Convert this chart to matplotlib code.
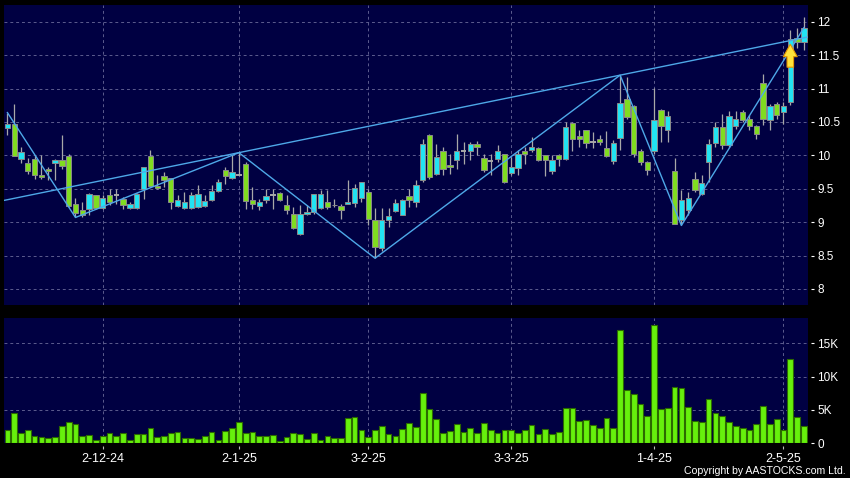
import matplotlib
matplotlib.use('Agg')
import matplotlib.pyplot as plt
from matplotlib.ticker import FuncFormatter
from matplotlib.transforms import offset_copy
import numpy as np

# daily candles (index 0 .. 117)
opens = [10.41, 10.475, 9.95, 9.89, 9.95, 9.71, 9.80, 9.885, 9.935, 9.99,
         9.265, 9.185, 9.20, 9.40, 9.21, 9.40, 9.40, 9.35, 9.21, 9.21,
         9.49, 9.99, 9.54, 9.69, 9.66, 9.24, 9.21, 9.21, 9.225, 9.24,
         9.335, 9.46, 9.775, 9.66, 9.71, 9.875, 9.335, 9.24, 9.325, 9.40,
         9.435, 9.26, 9.125, 8.825, 9.12, 9.15, 9.21, 9.30, 9.26, 9.24,
         9.275, 9.29, 9.36, 9.45, 9.025, 8.61, 9.025, 9.16, 9.11, 9.385,
         9.30, 9.625, 10.30, 9.725, 10.065, 9.86, 9.925, 10.065, 10.06, 10.175,
         9.96, 9.91, 9.95, 10.02, 9.74, 9.81, 10.065, 10.075, 10.11, 10.00,
         9.765, 10.00, 9.95, 10.485, 10.29, 10.375, 10.20, 10.245, 10.11, 9.915,
         10.265, 10.85, 10.735, 10.065, 9.90, 10.065, 10.675, 10.375, 9.765, 9.025,
         9.175, 9.65, 9.425, 9.90, 10.185, 10.425, 10.15, 10.435, 10.645, 10.545,
         10.435, 11.085, 10.525, 10.765, 10.645, 10.80, 11.76, 11.70]
highs = [10.64, 10.775, 10.125, 9.96, 10.00, 10.00, 9.825, 9.94, 10.31, 10.025,
         9.36, 9.30, 9.44, 9.40, 9.40, 9.49, 9.50, 9.375, 9.30, 9.44,
         9.825, 10.075, 9.71, 9.75, 9.66, 9.40, 9.45, 9.45, 9.56, 9.40,
         9.55, 9.65, 9.825, 10.00, 10.04, 9.90, 9.525, 9.35, 9.50, 9.50,
         9.45, 9.40, 9.225, 9.26, 9.25, 9.42, 9.475, 9.475, 9.35, 9.275,
         9.625, 9.575, 9.60, 9.50, 9.21, 9.21, 9.21, 9.35, 9.35, 9.50,
         9.625, 10.25, 10.325, 10.175, 10.125, 10.025, 10.325, 10.20, 10.20, 10.21,
         10.025, 10.025, 10.15, 10.025, 9.975, 10.075, 10.125, 10.275, 10.125, 10.00,
         10.00, 10.025, 10.50, 10.50, 10.375, 10.375, 10.35, 10.30, 10.36, 10.225,
         11.20, 11.17, 10.75, 10.10, 9.92, 11.01, 10.70, 10.67, 9.96, 9.485,
         9.45, 9.75, 9.70, 10.25, 10.50, 10.625, 10.66, 10.66, 10.68, 10.60,
         10.45, 11.21, 10.775, 10.80, 10.80, 11.87, 11.90, 12.07]
lows = [10.30, 9.99, 9.89, 9.725, 9.65, 9.65, 9.625, 9.625, 9.80, 9.225,
        9.07, 9.08, 9.10, 9.20, 9.20, 9.25, 9.275, 9.19, 9.20, 9.20,
        9.35, 9.525, 9.49, 9.525, 9.20, 9.225, 9.20, 9.20, 9.21, 9.225,
        9.32, 9.45, 9.575, 9.64, 9.70, 9.20, 9.20, 9.175, 9.29, 9.20,
        9.32, 9.125, 8.90, 8.81, 9.10, 9.125, 9.20, 9.20, 9.225, 9.05,
        9.275, 9.225, 9.30, 8.95, 8.46, 8.575, 8.925, 9.15, 9.10, 9.225,
        9.225, 9.60, 9.65, 9.71, 9.71, 9.725, 9.79, 9.875, 9.925, 10.00,
        9.75, 9.71, 9.90, 9.59, 9.70, 9.70, 9.875, 10.05, 9.91, 9.69,
        9.725, 9.84, 9.925, 10.06, 10.125, 10.11, 10.11, 10.15, 9.975, 9.875,
        10.08, 10.55, 9.98, 9.86, 9.70, 10.02, 10.20, 10.20, 8.97, 8.95,
        9.10, 9.45, 9.40, 9.60, 10.125, 10.10, 10.125, 10.40, 10.50, 10.375,
        10.25, 10.45, 10.375, 10.55, 10.475, 10.75, 11.60, 11.57]
closes = [10.475, 9.99, 10.05, 9.76, 9.70, 9.67, 9.76, 9.935, 9.84, 9.24,
          9.135, 9.10, 9.415, 9.21, 9.36, 9.30, 9.40, 9.26, 9.265, 9.415,
          9.825, 9.54, 9.51, 9.625, 9.30, 9.335, 9.30, 9.41, 9.425, 9.31,
          9.46, 9.60, 9.69, 9.75, 9.71, 9.31, 9.275, 9.30, 9.39, 9.40,
          9.325, 9.175, 8.91, 9.12, 9.15, 9.42, 9.42, 9.225, 9.25, 9.175,
          9.30, 9.51, 9.60, 9.04, 8.625, 9.025, 9.09, 9.29, 9.335, 9.325,
          9.55, 10.175, 9.675, 9.975, 9.80, 9.82, 10.065, 10.065, 10.175, 10.12,
          9.775, 9.91, 10.065, 9.60, 9.825, 10.02, 10.015, 10.125, 9.925, 9.925,
          9.935, 9.95, 10.425, 10.25, 10.24, 10.19, 10.20, 10.20, 9.99, 10.19,
          10.785, 10.575, 10.015, 9.90, 9.775, 10.525, 10.435, 10.585, 8.975, 9.325,
          9.365, 9.475, 9.585, 10.175, 10.425, 10.15, 10.585, 10.545, 10.535, 10.435,
          10.315, 10.55, 10.735, 10.60, 10.735, 11.735, 11.70, 11.91]
volume_k = [1.9, 4.55, 1.45, 2.0, 1.05, 0.95, 0.75, 0.95, 2.6, 3.15,
            2.85, 1.1, 1.2, 0.45, 1.0, 1.55, 1.1, 1.45, 0.45, 1.4,
            1.4, 2.25, 0.9, 1.1, 1.45, 1.65, 0.7, 0.75, 0.65, 1.1,
            1.7, 0.45, 1.8, 2.2, 3.1, 1.55, 1.7, 1.0, 1.0, 1.25,
            0.35, 0.9, 1.45, 1.35, 0.65, 1.55, 0.4, 1.05, 0.8, 0.8,
            3.75, 3.95, 1.9, 0.85, 2.0, 2.55, 1.4, 1.1, 2.05, 3.0,
            2.35, 7.5, 5.1, 3.65, 1.5, 1.75, 2.85, 1.7, 2.3, 1.5,
            2.95, 2.0, 1.55, 1.9, 2.0, 1.45, 1.95, 2.75, 1.35, 2.05,
            1.3, 1.6, 5.25, 5.35, 3.3, 3.45, 2.7, 2.25, 3.75, 2.25,
            17.1, 8.0, 7.4, 5.9, 4.1, 17.75, 5.1, 5.35, 8.4, 8.3,
            5.4, 3.35, 3.1, 6.7, 4.45, 4.0, 3.15, 2.6, 2.2, 2.0,
            2.8, 5.55, 2.85, 3.6, 1.95, 12.6, 3.9, 2.6]

date_ticks = [14, 34, 53, 74, 95, 114]
date_labels = ['2-12-24', '2-1-25', '3-2-25', '3-3-25', '1-4-25', '2-5-25']
price_ticks = [8, 8.5, 9, 9.5, 10, 10.5, 11, 11.5, 12]
vol_ticks = [0, 5000, 10000, 15000]
vol_labels = ['0', '5K', '10K', '15K']

# zigzag pivots: index and which price it uses
pivot_idx = [0, 10, 34, 54, 90, 99, 117]
pivot_kind = ['H', 'L', 'H', 'L', 'H', 'L', 'C']
trend_idx = [34, 90]   # trendline through these two highs
signal_idx = 115       # breakout arrow

BG = '#000042'
UP = '#22e3f2'
DOWN = '#80dc20'
FLAT = '#a8a8a8'
EDGE = '#8a8a8a'
LINE = '#4ea8e8'
GRID = '#5c5c8e'
VOL = '#66f00c'
VOL_EDGE = '#2c6a00'
FONT = 'Liberation Sans'

x_lo, x_hi = -0.5, 117.6

o = np.array(opens)
h = np.array(highs)
l = np.array(lows)
c = np.array(closes)
v = np.array(volume_k) * 1000
idx = np.arange(len(c))

fig = plt.figure(figsize=(8.5, 4.78), dpi=100, facecolor='black')
ax = fig.add_axes([4/850, 1-305/478, 804/850, 300/478], facecolor=BG)
axv = fig.add_axes([4/850, 1-443/478, 804/850, 125/478], facecolor=BG)

# candles
colors = np.where(c > o, UP, np.where(c < o, DOWN, FLAT))
ax.vlines(idx, l, h, color=FLAT, linewidth=0.9, zorder=2)
body = c != o
ax.bar(idx[body], np.abs(c - o)[body], bottom=np.minimum(o, c)[body], width=0.78,
       color=colors[body], edgecolor=EDGE, linewidth=0.7, zorder=3)
ax.hlines(c[~body], idx[~body] - 0.39, idx[~body] + 0.39, color=FLAT, linewidth=1.4, zorder=3)

# zigzag and trendline
price_of = {'H': h, 'L': l, 'C': c}
zz = [price_of[k][i] for i, k in zip(pivot_idx, pivot_kind)]
ax.plot(pivot_idx, zz, color=LINE, linewidth=1.0, zorder=4)
i1, i2 = trend_idx
slope = (h[i2] - h[i1]) / (i2 - i1)
tx = np.array([x_lo, x_hi])
ax.plot(tx, h[i1] + slope * (tx - i1), color=LINE, linewidth=1.0, zorder=4)

# breakout arrow
tip = offset_copy(ax.transData, fig=fig, x=0, y=-3.5, units='points')
ax.annotate('', xy=(signal_idx, c[signal_idx]), xycoords=tip,
            xytext=(0, -16.5), textcoords='offset points',
            arrowprops=dict(arrowstyle='simple,head_length=0.85,head_width=0.95,tail_width=0.45',
                            mutation_scale=10.5, fc='#ffe23a', ec='#e39600', lw=0.8,
                            shrinkA=0, shrinkB=0), zorder=6)

# volume
axv.bar(idx, v, width=0.84, color=VOL, edgecolor=VOL_EDGE, linewidth=0.8, zorder=3)

ax.set_xlim(x_lo, x_hi)
ax.set_ylim(7.76, 12.25)
axv.set_xlim(x_lo, x_hi)
axv.set_ylim(0, 18840)

for a in (ax, axv):
    for s in a.spines.values():
        s.set_visible(False)
    a.yaxis.tick_right()
    a.spines['right'].set_position(('outward', 2))
    a.spines['bottom'].set_position(('outward', 2))
    a.grid(True, color=GRID, linestyle=(0, (3, 3)), linewidth=0.7, zorder=1)
    a.set_axisbelow(True)
    a.set_xticks(date_ticks)
    a.tick_params(axis='y', colors='white', length=2.5, width=0.8, pad=2, labelsize=8.5)
    for t in a.get_yticklabels():
        t.set_fontfamily(FONT)

ax.set_yticks(price_ticks)
ax.yaxis.set_major_formatter(FuncFormatter(lambda val, pos: '%g' % val))
ax.tick_params(axis='x', length=0, labelbottom=False)

axv.set_yticks(vol_ticks)
axv.set_yticklabels(vol_labels, fontfamily=FONT)
axv.set_xticklabels(date_labels, fontfamily=FONT)
axv.tick_params(axis='x', colors='white', length=2.5, width=0.8, pad=2.5, labelsize=9)
axv.tick_params(axis='x', color='#bbbbbb')
# keep only the 5K/10K/15K gridlines in volume panel
axv.yaxis.get_gridlines()[0].set_visible(False)

fig.text(846/850, 1-476/478, 'Copyright by AASTOCKS.com Ltd.', ha='right', va='bottom',
         color='white', fontsize=7.6, fontfamily=FONT)

plt.savefig('out.png', dpi=100, facecolor='black')
